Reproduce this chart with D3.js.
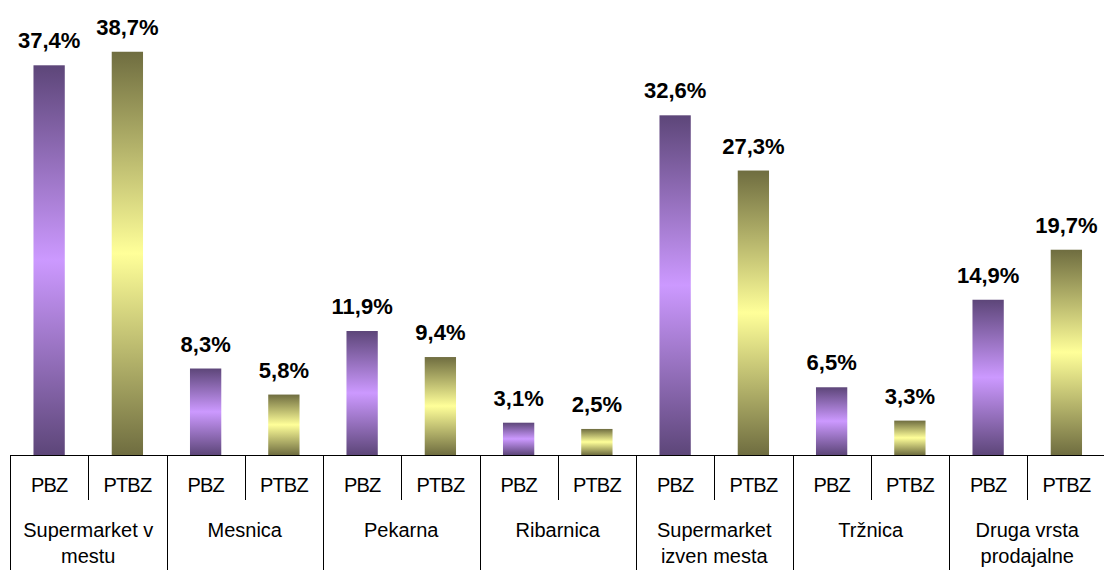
<!DOCTYPE html>
<html><head><meta charset="utf-8">
<script src="https://cdn.jsdelivr.net/npm/d3@7"></script>
<style>body{margin:0;background:#fff}svg{display:block}text{font-family:"Liberation Sans",Arial,sans-serif;fill:#000}</style>
</head><body><svg id="c" width="1104" height="570"></svg>
<script>
// Shopping location shares by respondent group
const categories = ["Supermarket v mestu", "Mesnica", "Pekarna", "Ribarnica", "Supermarket izven mesta", "Tržnica", "Druga vrsta prodajalne"];
const categoryLines = [["Supermarket v", "mestu"], ["Mesnica"], ["Pekarna"], ["Ribarnica"], ["Supermarket", "izven mesta"], ["Tržnica"], ["Druga vrsta", "prodajalne"]];
const seriesNames = ["PBZ", "PTBZ"];
const pbz = [37.4, 8.3, 11.9, 3.1, 32.6, 6.5, 14.9];
const ptbz = [38.7, 5.8, 9.4, 2.5, 27.3, 3.3, 19.7];

const svg = d3.select("#c");
const left = 10, right = 1104 + 1.5, base = 455;

const x0 = d3.scaleBand().domain(categories).range([left, right]).paddingInner(0).paddingOuter(0);
const x1 = d3.scaleBand().domain(seriesNames).range([0, x0.bandwidth()]).paddingInner(0.6).paddingOuter(0.3);
const xSub = d3.scaleBand().domain(seriesNames).range([0, x0.bandwidth()]);
const y = d3.scaleLinear().domain([0, 40]).range([base, base - 40 * 10.42]);

const defs = svg.append("defs");
const grads = {
  PBZ: ["#5d4679", "#cc99ff"],
  PTBZ: ["#6f6d40", "#ffff99"]
};
for (const k of seriesNames) {
  const g = defs.append("linearGradient").attr("id", "g" + k).attr("x1", 0).attr("y1", 0).attr("x2", 0).attr("y2", 1);
  g.append("stop").attr("offset", "0%").attr("stop-color", grads[k][0]);
  g.append("stop").attr("offset", "50%").attr("stop-color", grads[k][1]);
  g.append("stop").attr("offset", "100%").attr("stop-color", grads[k][0]);
}

const rows = categories.map((c, i) => ({ c, lines: categoryLines[i], vals: [{ s: "PBZ", v: pbz[i] }, { s: "PTBZ", v: ptbz[i] }] }));
const fmt = v => d3.format(".1f")(v).replace(".", ",") + "%";

const grp = svg.selectAll("g.grp").data(rows).join("g").attr("class", "grp")
  .attr("transform", d => `translate(${x0(d.c)},0)`);

grp.selectAll("rect").data(d => d.vals).join("rect")
  .attr("x", d => x1(d.s)).attr("width", x1.bandwidth())
  .attr("y", d => y(d.v)).attr("height", d => base - y(d.v))
  .attr("fill", d => `url(#g${d.s})`);

grp.selectAll("text.val").data(d => d.vals).join("text").attr("class", "val")
  .attr("x", d => x1(d.s) + x1.bandwidth() / 2).attr("y", d => y(d.v) - 17)
  .attr("text-anchor", "middle").attr("font-weight", "bold").attr("font-size", 22)
  .text(d => fmt(d.v));

// axis: baseline, sub-tick separators, group separators
const ax = svg.append("g").attr("stroke", "#000").attr("stroke-width", 1);
ax.append("line").attr("x1", left).attr("x2", 1104).attr("y1", base + 0.5).attr("y2", base + 0.5);
categories.forEach(c => {
  const gx = Math.round(x0(c)) + 0.5;
  ax.append("line").attr("x1", gx).attr("x2", gx).attr("y1", base).attr("y2", 570);
  const sx = Math.round(x0(c) + xSub("PTBZ")) + 0.5;
  ax.append("line").attr("x1", sx).attr("x2", sx).attr("y1", base).attr("y2", 500);
});

grp.selectAll("text.sub").data(d => d.vals).join("text").attr("class", "sub")
  .attr("x", d => xSub(d.s) + xSub.bandwidth() / 2).attr("y", 492)
  .attr("text-anchor", "middle").attr("font-size", 20).attr("letter-spacing", -0.8)
  .text(d => d.s);

grp.append("text").attr("text-anchor", "middle").attr("font-size", 20)
  .selectAll("tspan").data(d => d.lines).join("tspan")
  .attr("x", x0.bandwidth() / 2).attr("y", (d, i) => 537 + i * 26)
  .text(d => d);
</script></body></html>
